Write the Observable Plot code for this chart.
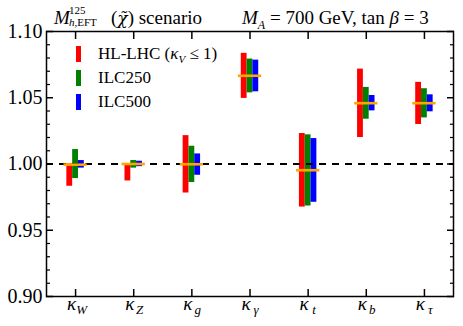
<!DOCTYPE html>
<html>
<head>
<meta charset="utf-8">
<script src="https://cdn.jsdelivr.net/npm/d3@7"></script>
<script src="https://cdn.jsdelivr.net/npm/@observablehq/plot@0.6"></script>
<style>
  html, body { margin: 0; padding: 0; background: white; }
  #wrap { position: relative; width: 463px; height: 326px; font-family: "Liberation Serif", serif; color: black; }
  .t { position: absolute; white-space: nowrap; line-height: 1; }
  .it { font-style: italic; }
  .leg { position: absolute; left: 76px; top: 46px; font-size: 17px; }
  .row { height: 24px; display: flex; align-items: flex-start; }
  .sw { width: 5px; height: 16px; display: inline-block; margin-right: 17px; }
  .lt { margin-top: -2px; }
  .chi { font-family: "DejaVu Serif", serif; font-style: italic; font-size: 17px; }
</style>
</head>
<body>
<div id="wrap">
  <div id="chart"></div>
  <div class="t it" style="left:54px; top:8px; font-size:19px;">M</div>
  <div class="t" style="left:69px; top:5px; font-size:11px;">125</div>
  <div class="t" style="left:69px; top:17px; font-size:11px;"><span class="it">h</span>,EFT</div>
  <div class="t" style="left:111px; top:8px; font-size:19px;">(<span class="chi">χ̃</span>) scenario</div>
  <div class="t" style="left:242px; top:8px; font-size:19px;"><span class="it">M</span><sub class="it" style="font-size:12px;">A</sub> = 700 GeV, tan <span class="it">β</span> = 3</div>
  <div class="leg" id="legend"></div>
</div>
<script>
const categories = ["W", "Z", "g", "γ", "t", "b", "τ"];
const seriesNames = ["HL-LHC", "ILC250", "ILC500"];
const seriesColors = ["#ff0000", "#008000", "#0000ff"];
const central    = [0.9995, 1.0000, 0.9998, 1.0666, 0.9953, 1.0459, 1.0459];
const hlLow      = [0.9832, 0.9872, 0.9781, 1.0495, 0.9675, 1.0200, 1.0298];
const hlHigh     = [1.0000, 1.0000, 1.0214, 1.0835, 1.0230, 1.0716, 1.0616];
const ilc250Low  = [0.9890, 0.9969, 0.9860, 1.0537, 0.9683, 1.0338, 1.0348];
const ilc250High = [1.0109, 1.0026, 1.0134, 1.0792, 1.0220, 1.0578, 1.0568];
const ilc500Low  = [0.9969, 0.9980, 0.9915, 1.0545, 0.9711, 1.0401, 1.0394];
const ilc500High = [1.0026, 1.0021, 1.0076, 1.0784, 1.0192, 1.0517, 1.0522];
const yMajorTicks = [0.90, 0.95, 1.00, 1.05, 1.10];
const yTickLabels = ["0.90", "0.95", "1.00", "1.05", "1.10"];

const lows = [hlLow, ilc250Low, ilc500Low];
const highs = [hlHigh, ilc250High, ilc500High];
const offsets = [-0.1, 0, 0.1];
const barHalf = 0.05;

const bars = [];
categories.forEach((c, i) => {
  seriesNames.forEach((s, k) => {
    bars.push({series: s, x1: i + offsets[k] - barHalf, x2: i + offsets[k] + barHalf, lo: lows[k][i], hi: highs[k][i]});
  });
});
const centers = categories.map((c, i) => ({i, c, v: central[i]}));
const idx = categories.map((c, i) => i);
const yMinor = d3.range(90, 111).map(v => v / 100).filter(v => !yMajorTicks.some(m => Math.abs(m - v) < 1e-9));

const font = "'Liberation Serif', serif";
const chart = Plot.plot({
  width: 463, height: 326,
  marginLeft: 46, marginRight: 10, marginTop: 31, marginBottom: 30,
  style: {fontFamily: font, background: "white", overflow: "visible"},
  x: {domain: [-0.5, 6.5], axis: null},
  y: {domain: [0.9, 1.1], axis: null},
  color: {domain: seriesNames, range: seriesColors},
  marks: [
    Plot.rect(bars, {x1: "x1", x2: "x2", y1: "lo", y2: "hi", fill: "series"}),
    Plot.ruleY([1], {stroke: "black", strokeWidth: 2.2, strokeDasharray: "7,6"}),
    Plot.ruleY(centers, {x1: d => d.i - 0.2, x2: d => d.i + 0.2, y: "v", stroke: "#ffa500", strokeWidth: 2.6}),
    // inward ticks
    Plot.axisY(yMajorTicks, {anchor: "left", tickSize: -7, strokeWidth: 1.5, tickFormat: () => ""}),
    Plot.axisY(yMajorTicks, {anchor: "right", tickSize: -7, strokeWidth: 1.5, tickFormat: () => ""}),
    Plot.axisY(yMinor, {anchor: "left", tickSize: -4, strokeWidth: 1.2, tickFormat: () => ""}),
    Plot.axisY(yMinor, {anchor: "right", tickSize: -4, strokeWidth: 1.2, tickFormat: () => ""}),
    Plot.axisX(idx, {anchor: "bottom", tickSize: -7, strokeWidth: 1.5, tickFormat: () => ""}),
    Plot.axisX(idx, {anchor: "top", tickSize: -7, strokeWidth: 1.5, tickFormat: () => ""}),
    // tick labels
    Plot.axisY(yMajorTicks, {anchor: "left", tickSize: 0, tickPadding: 4, fontSize: 20, fontFamily: font, fill: "black", tickFormat: (d, i) => yTickLabels[i]}),
    Plot.text(idx, {x: d => d, frameAnchor: "bottom", text: () => "κ", dx: -4, dy: 13, fontSize: 19, fontFamily: font, fontStyle: "italic", fill: "black"}),
    Plot.text(idx, {x: d => d, frameAnchor: "bottom", text: d => categories[d], dx: 6, dy: 17, fontSize: 13, fontFamily: font, fontStyle: "italic", fill: "black"}),
    Plot.frame({stroke: "black", strokeWidth: 1.5})
  ]
});
document.getElementById("chart").appendChild(chart);

const legendLabels = ['HL-LHC (<span class="it">κ</span><sub class="it" style="font-size:11px">V</sub> ≤ 1)', "ILC250", "ILC500"];
const leg = document.getElementById("legend");
seriesNames.forEach((s, k) => {
  const row = document.createElement("div");
  row.className = "row";
  row.innerHTML = `<span class="sw" style="background:${seriesColors[k]}"></span><span class="lt">${legendLabels[k]}</span>`;
  leg.appendChild(row);
});
</script>
</body>
</html>
